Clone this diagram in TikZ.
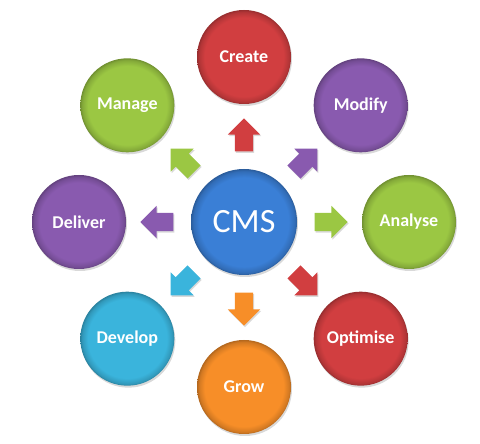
\documentclass[tikz,border=0pt]{standalone}
\usepackage{fontspec}
\setmainfont{Carlito}
\usetikzlibrary{shapes.arrows,shadows,calc}

\definecolor{cmsblue}{RGB}{58,127,214}
\definecolor{stepred}{RGB}{209,62,64}
\definecolor{steppurple}{RGB}{137,90,175}
\definecolor{stepgreen}{RGB}{155,199,67}
\definecolor{stepcyan}{RGB}{58,180,220}
\definecolor{steporange}{RGB}{247,142,40}

% flat disc with a darker rim
\pgfdeclareradialshading[bevelbase]{bevel}{\pgfpoint{0bp}{0bp}}{%
  color(0bp)=(bevelbase); color(21bp)=(bevelbase);
  color(24bp)=(bevelbase!85!black); color(25bp)=(bevelbase!72!black);
  color(50bp)=(bevelbase!72!black)}

\tikzset{
  stage/.style={circle, inner sep=0pt, minimum size=94bp,
    /utils/exec={\colorlet{bevelbase}{#1}}, shading=bevel,
    drop shadow={shadow xshift=1bp, shadow yshift=-2bp, opacity=0.3},
    text=white, font=\bfseries\fontsize{18bp}{20bp}\selectfont},
  hub/.style={stage=cmsblue, minimum size=106bp,
    font=\fontsize{34bp}{38bp}\selectfont},
  pointer/.style={single arrow, single arrow head extend=7bp,
    inner xsep=0pt, inner ysep=9bp, minimum height=33bp, fill=#1,
    drop shadow={shadow xshift=1bp, shadow yshift=-1.5bp, opacity=0.3}}
}

\begin{document}
\begin{tikzpicture}[x=1bp, y=1bp]
  \useasboundingbox (0,0) rectangle (480,444);

  % Hub
  \node[hub] (cms) at (244,222) {CMS};

  % Stages round the hub
  \node[stage=stepred] (create) at ($(cms)+(90:165)$) {Create};
  \node[stage=steppurple] (modify) at ($(cms)+(45:165)$) {Modify};
  \node[stage=stepgreen] (analyse) at ($(cms)+(0:165)$) {Analyse};
  \node[stage=stepred] (optimise) at ($(cms)+(-45:165)$) {Optimise};
  \node[stage=steporange] (grow) at ($(cms)+(-90:165)$) {Grow};
  \node[stage=stepcyan] (develop) at ($(cms)+(-135:165)$) {Develop};
  \node[stage=steppurple] (deliver) at ($(cms)+(180:165)$) {Deliver};
  \node[stage=stepgreen] (manage) at ($(cms)+(135:165)$) {Manage};

  % Block arrows pointing out
  \foreach \s/\a/\c in {create/90/stepred, modify/45/steppurple,
      analyse/0/stepgreen, optimise/-45/stepred, grow/-90/steporange,
      develop/-135/stepcyan, deliver/180/steppurple, manage/135/stepgreen}
    \node[pointer=\c, rotate=\a] (to\s) at ($(cms)!0.5!(\s)$) {};
\end{tikzpicture}
\end{document}
